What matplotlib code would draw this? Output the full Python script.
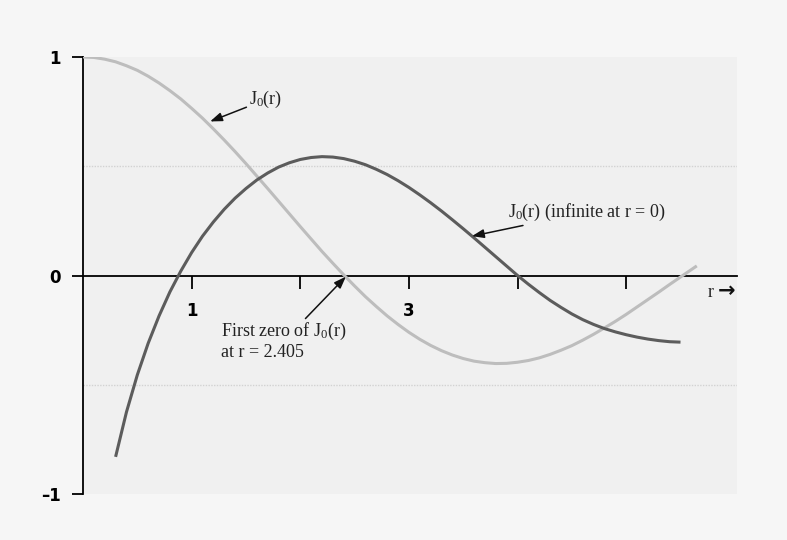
#!/usr/bin/env python3

import matplotlib
matplotlib.use("Agg")
import matplotlib.pyplot as plt

plt.rcParams['mathtext.fontset'] = 'custom'
plt.rcParams['mathtext.rm'] = 'Liberation Serif'
plt.rcParams['mathtext.it'] = 'Liberation Serif'

# Bessel function of the first kind, J0(r)
R_J = [0.0, 0.1, 0.2, 0.3, 0.4, 0.5, 0.6, 0.7, 0.8, 0.9,
       1.0, 1.1, 1.2, 1.3, 1.4, 1.5, 1.6, 1.7, 1.8, 1.9,
       2.0, 2.1, 2.2, 2.3, 2.4, 2.5, 2.6, 2.7, 2.8, 2.9,
       3.0, 3.1, 3.2, 3.3, 3.4, 3.5, 3.6, 3.7, 3.8, 3.9,
       4.0, 4.1, 4.2, 4.3, 4.4, 4.5, 4.6, 4.7, 4.8, 4.9,
       5.0, 5.1, 5.2, 5.3, 5.4, 5.5, 5.6, 5.65]
J0 = [1.000, 0.998, 0.990, 0.978, 0.960, 0.939, 0.912, 0.881, 0.846, 0.808,
      0.765, 0.720, 0.671, 0.620, 0.567, 0.512, 0.455, 0.398, 0.340, 0.282,
      0.224, 0.167, 0.110, 0.056, 0.003, -0.048, -0.097, -0.142, -0.185, -0.224,
      -0.260, -0.292, -0.320, -0.344, -0.364, -0.380, -0.392, -0.399, -0.403, -0.402,
      -0.397, -0.389, -0.377, -0.361, -0.342, -0.321, -0.296, -0.269, -0.240, -0.210,
      -0.178, -0.144, -0.110, -0.076, -0.041, -0.007, 0.027, 0.044]

# second solution, infinite at r = 0
R_Y = [0.3, 0.4, 0.5, 0.6, 0.7, 0.8, 0.9,
       1.0, 1.1, 1.2, 1.3, 1.4, 1.5, 1.6, 1.7, 1.8, 1.9,
       2.0, 2.1, 2.2, 2.3, 2.4, 2.5, 2.6, 2.7, 2.8, 2.9,
       3.0, 3.1, 3.2, 3.3, 3.4, 3.5, 3.6, 3.7, 3.8, 3.9,
       4.0, 4.1, 4.2, 4.3, 4.4, 4.5, 4.6, 4.7, 4.8, 4.9,
       5.0, 5.1, 5.2, 5.3, 5.4, 5.5]
Y0 = [-0.830, -0.625, -0.455, -0.310, -0.185, -0.075, 0.020,
      0.105, 0.180, 0.245, 0.303, 0.354, 0.398, 0.437, 0.469, 0.496, 0.516,
      0.531, 0.540, 0.544, 0.542, 0.535, 0.523, 0.507, 0.486, 0.462, 0.434,
      0.403, 0.369, 0.333, 0.295, 0.255, 0.214, 0.172, 0.129, 0.086, 0.043,
      0.000, -0.040, -0.078, -0.114, -0.146, -0.176, -0.202, -0.224, -0.243, -0.258,
      -0.271, -0.282, -0.291, -0.298, -0.303, -0.305]

X_TICKS = [1, 2, 3, 4, 5]
X_LABELS = ['1', '', '3', '', '']
Y_TICKS = [-1, 0, 1]
Y_LABELS = ['\u20131', '0', '1']

fig = plt.figure(figsize=(7.87, 5.40), dpi=100, facecolor='#f6f6f6')
ax = fig.add_axes([83 / 787, 1 - 494 / 540, (737 - 83) / 787, (494 - 57) / 540])
ax.set_facecolor('#f0f0f0')

ax.plot(R_J, J0, color='#bdbdbd', lw=2.2, solid_capstyle='butt', zorder=3)
ax.plot(R_Y, Y0, color='#5c5c5c', lw=2.2, solid_capstyle='butt', zorder=3)

# faint dotted guides at +/- 0.5
for yv in (0.5, -0.5):
    ax.axhline(yv, color='#d2d2d2', lw=1.0, ls=(0, (1, 1)), zorder=1)

ax.set_xlim(0, 6.02)
ax.set_ylim(-1, 1)

for side in ('top', 'right'):
    ax.spines[side].set_visible(False)
ax.spines['bottom'].set_position(('data', 0))
ax.spines['bottom'].set_linewidth(1.3)
ax.spines['left'].set_linewidth(1.3)
ax.spines['left'].set_bounds(-1, 1)

ax.set_xticks(X_TICKS)
ax.set_xticklabels(X_LABELS, fontsize=12, fontweight='bold', family='DejaVu Sans')
ax.set_yticks(Y_TICKS)
ax.set_yticklabels(Y_LABELS, fontsize=12, fontweight='bold', family='DejaVu Sans')
ax.tick_params(axis='x', direction='out', length=9, width=1.3, pad=10)
ax.tick_params(axis='y', direction='out', length=8, width=1.3, pad=8)

serif = dict(family='Liberation Serif', fontsize=13, color='#222222')
arrow = dict(arrowstyle='-|>,head_length=0.6,head_width=0.22', color='#111111',
             lw=1.1, mutation_scale=12, shrinkA=0, shrinkB=0)

ax.annotate('J$_0$(r)', xy=(1.17, 0.705), xytext=(1.53, 0.805),
            ha='left', va='center', arrowprops=arrow, **serif)
ax.annotate('First zero of J$_0$(r)\nat r = 2.405', xy=(2.42, -0.005),
            xytext=(1.27, -0.30), ha='left', va='center', linespacing=1.1,
            arrowprops=arrow, **serif)
ax.annotate('J$_0$(r) (infinite at r = 0)', xy=(3.58, 0.18),
            xytext=(3.91, 0.29), ha='left', va='center', arrowprops=arrow, **serif)

# axis name with a heavy arrow
ax.text(5.75, -0.076, 'r', ha='left', va='center', **serif)
ax.text(5.84, -0.072, '\u2192', ha='left', va='center', family='DejaVu Sans',
        fontweight='bold', fontsize=15, color='#111111')

fig.savefig('out.png', dpi=100, facecolor=fig.get_facecolor())
